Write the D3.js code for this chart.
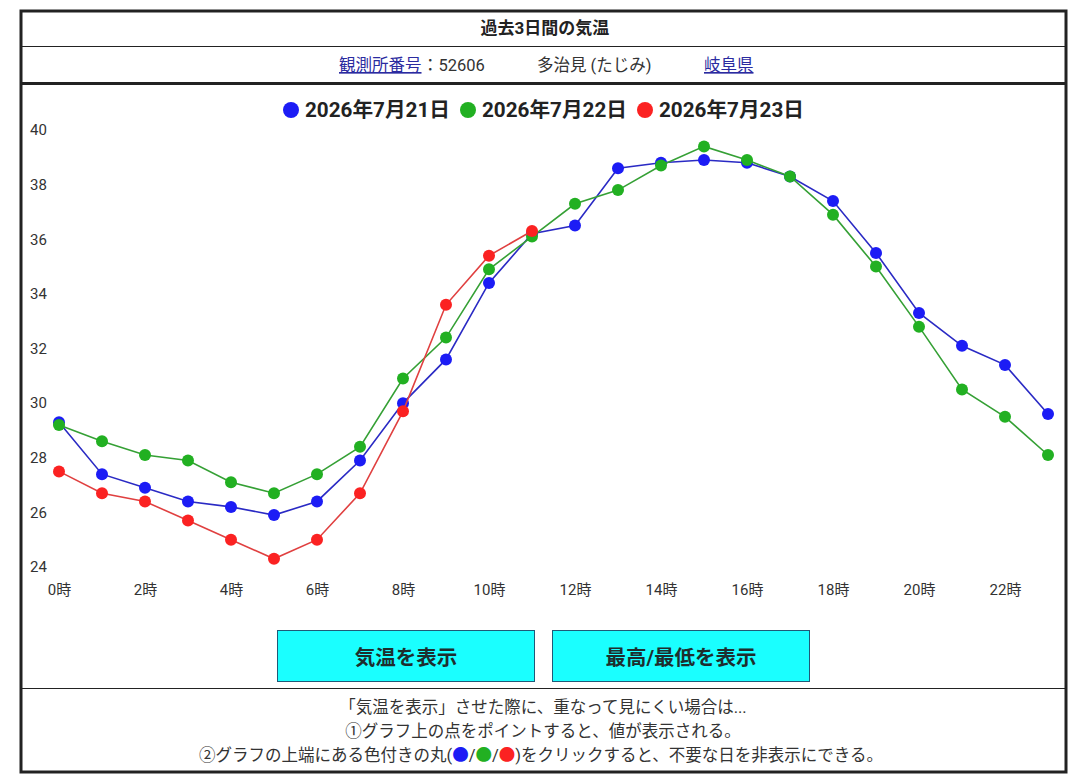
<!DOCTYPE html>
<html lang="ja">
<head>
<meta charset="utf-8">
<title>過去3日間の気温</title>
<script src="https://cdn.jsdelivr.net/npm/d3@7"></script>
<style>
  body { margin:0; background:#fff; }
  svg { display:block; font-family: Roboto, "Noto Sans CJK JP", sans-serif; }
  .link { fill:#2b2ba0; text-decoration: underline; }
</style>
</head>
<body>
<script>
// hours 0..23
var hours = d3.range(0, 24);
var xTickLabels = [0, 2, 4, 6, 8, 10, 12, 14, 16, 18, 20, 22];
var yTicks = [24, 26, 28, 30, 32, 34, 36, 38, 40];

var dayNames = ["2026年7月21日", "2026年7月22日", "2026年7月23日"];
var dotColors = ["#1c1cf5", "#22b022", "#fb2222"];
var lineColors = ["#2a2ac4", "#35a035", "#e04040"];

var temps0721 = [29.3, 27.4, 26.9, 26.4, 26.2, 25.9, 26.4, 27.9, 30.0, 31.6, 34.4, 36.2,
                 36.5, 38.6, 38.8, 38.9, 38.8, 38.3, 37.4, 35.5, 33.3, 32.1, 31.4, 29.6];
var temps0722 = [29.2, 28.6, 28.1, 27.9, 27.1, 26.7, 27.4, 28.4, 30.9, 32.4, 34.9, 36.1,
                 37.3, 37.8, 38.7, 39.4, 38.9, 38.3, 36.9, 35.0, 32.8, 30.5, 29.5, 28.1];
var temps0723 = [27.5, 26.7, 26.4, 25.7, 25.0, 24.3, 25.0, 26.7, 29.7, 33.6, 35.4, 36.3];

var series = [temps0721, temps0722, temps0723];

var W = 1080, H = 780;
var svg = d3.select("body").append("svg").attr("width", W).attr("height", H);

// frame
svg.append("rect").attr("x", 21).attr("y", 11).attr("width", 1045).attr("height", 761)
   .attr("fill", "#fff").attr("stroke", "#222").attr("stroke-width", 3);
svg.append("line").attr("x1", 21).attr("x2", 1066).attr("y1", 46.5).attr("y2", 46.5)
   .attr("stroke", "#222").attr("stroke-width", 1);
svg.append("line").attr("x1", 21).attr("x2", 1066).attr("y1", 83.5).attr("y2", 83.5)
   .attr("stroke", "#222").attr("stroke-width", 3);
svg.append("line").attr("x1", 21).attr("x2", 1066).attr("y1", 688.5).attr("y2", 688.5)
   .attr("stroke", "#222").attr("stroke-width", 1);

// title
svg.append("text").attr("x", 545).attr("y", 34).attr("text-anchor", "middle")
   .attr("font-size", 17).attr("font-weight", "bold").attr("fill", "#222")
   .text("過去3日間の気温");

// station line
var sub = svg.append("g").attr("font-size", 16.5).attr("fill", "#333");
sub.append("text").attr("class", "link").attr("x", 339).attr("y", 71).text("観測所番号");
sub.append("text").attr("x", 422).attr("y", 71).text("：52606");
sub.append("text").attr("x", 537).attr("y", 71).text("多治見 (たじみ)");
sub.append("text").attr("class", "link").attr("x", 704).attr("y", 71).text("岐阜県");

// legend
var legX = [291, 468, 645];
var leg = svg.append("g");
dayNames.forEach(function(name, i) {
  leg.append("circle").attr("cx", legX[i]).attr("cy", 110).attr("r", 8).attr("fill", dotColors[i]);
  leg.append("text").attr("x", legX[i] + 14).attr("y", 117)
     .attr("font-size", 20).attr("font-weight", "bold").attr("fill", "#222")
     .attr("textLength", 145).attr("lengthAdjust", "spacingAndGlyphs").text(name);
});

// scales
var x = d3.scaleLinear().domain([0, 23]).range([59, 1048]);
var y = d3.scaleLinear().domain([24, 40]).range([567, 130]);

var yAxis = svg.append("g").attr("transform", "translate(30,0)")
   .call(d3.axisLeft(y).tickValues(yTicks).tickSize(0).tickPadding(0));
yAxis.select(".domain").remove();
yAxis.selectAll("text").attr("text-anchor", "start").attr("x", 0)
   .attr("font-size", 15).attr("fill", "#333").attr("font-family", "Roboto, sans-serif");

var xAxis = svg.append("g").attr("transform", "translate(0,580)")
   .call(d3.axisBottom(x).tickValues(xTickLabels).tickSize(0).tickPadding(4)
         .tickFormat(function(d) { return d + "時"; }));
xAxis.select(".domain").remove();
xAxis.selectAll("text").attr("font-size", 15).attr("fill", "#333")
   .attr("font-family", "Roboto, 'Noto Sans CJK JP', sans-serif");

// lines and dots
var line = d3.line().x(function(d, i) { return x(i); }).y(function(d) { return y(d); });
series.forEach(function(vals, s) {
  var g = svg.append("g");
  g.append("path").datum(vals).attr("d", line).attr("fill", "none")
   .attr("stroke", lineColors[s]).attr("stroke-width", 1.6);
  g.selectAll("circle").data(vals).enter().append("circle")
   .attr("cx", function(d, i) { return x(i); })
   .attr("cy", function(d) { return y(d); })
   .attr("r", 6).attr("fill", dotColors[s]);
});

// buttons
var buttons = [{label: "気温を表示", x: 277.5}, {label: "最高/最低を表示", x: 552.5}];
buttons.forEach(function(b) {
  svg.append("rect").attr("x", b.x).attr("y", 630.5).attr("width", 257).attr("height", 51)
     .attr("fill", "#1affff").attr("stroke", "#1f5a78").attr("stroke-width", 1);
  svg.append("text").attr("x", b.x + 128.5).attr("y", 665).attr("text-anchor", "middle")
     .attr("font-size", 20.5).attr("font-weight", "bold").attr("fill", "#1e2e2e").text(b.label);
});

// notes
var notes = svg.append("g").attr("font-size", 16.5).attr("fill", "#333").attr("text-anchor", "middle");
notes.append("text").attr("x", 543).attr("y", 713).text("「気温を表示」させた際に、重なって見にくい場合は...");
notes.append("text").attr("x", 543).attr("y", 737).text("①グラフ上の点をポイントすると、値が表示される。");
var n3 = notes.append("text").attr("x", 541).attr("y", 761);
n3.append("tspan").text("②グラフの上端にある色付きの丸(");
n3.append("tspan").attr("fill", dotColors[0]).text("●");
n3.append("tspan").text("/");
n3.append("tspan").attr("fill", dotColors[1]).text("●");
n3.append("tspan").text("/");
n3.append("tspan").attr("fill", dotColors[2]).text("●");
n3.append("tspan").text(")をクリックすると、不要な日を非表示にできる。");
</script>
</body>
</html>
